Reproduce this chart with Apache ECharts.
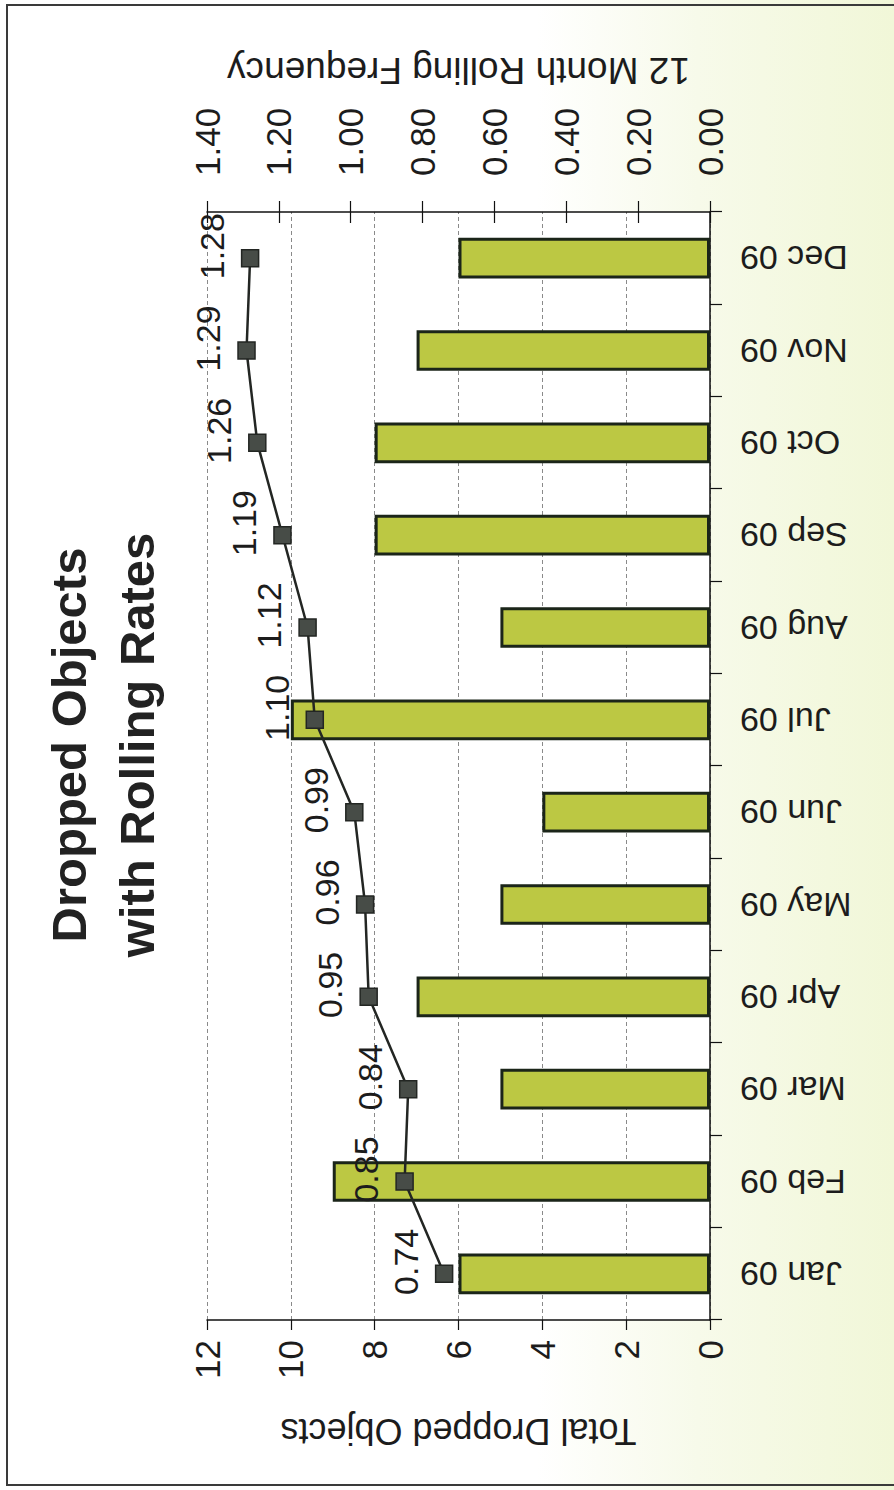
<!DOCTYPE html>
<html>
<head>
<meta charset="utf-8">
<script src="https://cdn.jsdelivr.net/npm/echarts@6/dist/echarts.min.js"></script>
<style>
  html, body { margin: 0; padding: 0; }
  body {
    width: 894px; height: 1490px; overflow: hidden; position: relative;
    background: linear-gradient(to right, #ffffff 0%, #ffffff 60%, #f7faea 78%, #f1f7d8 100%);
  }
  /* chart is laid out landscape, then turned a quarter turn counter-clockwise */
  #chart {
    position: absolute; left: 0; top: 0;
    width: 1490px; height: 894px;
    transform-origin: 0 0;
    transform: translate(0, 1490px) rotate(-90deg);
  }
  #frame {
    position: absolute; left: 6px; top: 4px; width: 900px; height: 1478px;
    border: 2px solid #3a3a3a; pointer-events: none;
  }
</style>
</head>
<body>
<div id="chart"></div>
<div id="frame"></div>
<script>
const months = ['Jan 09', 'Feb 09', 'Mar 09', 'Apr 09', 'May 09', 'Jun 09',
                'Jul 09', 'Aug 09', 'Sep 09', 'Oct 09', 'Nov 09', 'Dec 09'];
const droppedTotals = [6, 9, 5, 7, 5, 4, 10, 5, 8, 8, 7, 6];
const rollingFrequency = [0.74, 0.85, 0.84, 0.95, 0.96, 0.99, 1.10, 1.12, 1.19, 1.26, 1.29, 1.28];
const countTicks = { min: 0, max: 12, interval: 2 };
const rateTicks = { min: 0, max: 1.4, interval: 0.2 };

const FONT = '"Liberation Sans", Arial, sans-serif';
const INK = '#1c1c1c';

const chart = echarts.init(document.getElementById('chart'), null,
  { renderer: 'svg', width: 1490, height: 894 });

chart.setOption({
  animation: false,
  textStyle: { fontFamily: FONT, color: INK },
  title: {
    text: 'Dropped Objects\nwith Rolling Rates',
    left: 'center',
    top: 30,
    textStyle: { fontFamily: FONT, fontSize: 49, fontWeight: 'bold', lineHeight: 68, color: '#222' }
  },
  grid: {
    left: 170, right: 212, top: 207, bottom: 184,
    show: true, backgroundColor: '#ffffff', borderWidth: 0
  },
  xAxis: {
    type: 'category',
    data: months,
    axisLine: { lineStyle: { color: '#111', width: 1.5 } },
    axisTick: { show: true, length: 12, lineStyle: { color: '#111', width: 1.2 } },
    axisLabel: { rotate: 90, fontSize: 34, margin: 30, color: INK, fontFamily: FONT }
  },
  yAxis: [
    {
      type: 'value',
      min: countTicks.min, max: countTicks.max, interval: countTicks.interval,
      name: 'Total Dropped Objects',
      nameLocation: 'middle', nameRotate: 90, nameGap: 93,
      nameTextStyle: { fontSize: 36, color: INK, fontFamily: FONT },
      axisLine: { show: true, lineStyle: { color: '#111', width: 1.5 } },
      axisTick: { show: true, length: 10, lineStyle: { color: '#111', width: 1.2 } },
      axisLabel: { fontSize: 35, margin: 20, color: INK, fontFamily: FONT },
      splitLine: { show: true, lineStyle: { color: '#8a8a8a', width: 1, type: [4, 3] } }
    },
    {
      type: 'value',
      position: 'right',
      min: rateTicks.min, max: rateTicks.max, interval: rateTicks.interval,
      name: '12 Month Rolling Frequency',
      nameLocation: 'middle', nameRotate: 90, nameGap: 123,
      nameTextStyle: { fontSize: 37, color: INK, fontFamily: FONT },
      axisLine: { show: true, lineStyle: { color: '#111', width: 1.5 } },
      axisTick: { show: true, length: 11, lineStyle: { color: '#111', width: 1.2 } },
      axisLabel: { fontSize: 35, margin: 36, color: INK, fontFamily: FONT,
                   formatter: v => v.toFixed(2) },
      splitLine: { show: false }
    },
    {
      // inner half of the crossing tick marks on the rate axis
      type: 'value',
      position: 'right',
      min: rateTicks.min, max: rateTicks.max, interval: rateTicks.interval,
      axisLine: { show: false },
      axisTick: { show: true, inside: true, length: 11, lineStyle: { color: '#111', width: 1.2 } },
      axisLabel: { show: false },
      splitLine: { show: false }
    }
  ],
  series: [
    {
      name: 'Total Dropped Objects',
      type: 'bar',
      yAxisIndex: 0,
      data: droppedTotals,
      barWidth: '44%',
      itemStyle: { color: '#bcc843', borderColor: '#1b2519', borderWidth: 3 }
    },
    {
      name: '12 Month Rolling Frequency',
      type: 'line',
      yAxisIndex: 1,
      data: rollingFrequency,
      symbol: 'rect',
      symbolSize: 17,
      lineStyle: { color: '#232623', width: 2.5 },
      itemStyle: { color: '#474c47', borderColor: '#232623', borderWidth: 1.5 },
      label: {
        show: true, position: 'top', distance: 12, offset: [12, 0],
        fontSize: 34, color: INK, fontFamily: FONT,
        formatter: p => p.value.toFixed(2)
      },
      z: 5
    }
  ]
});
</script>
</body>
</html>
